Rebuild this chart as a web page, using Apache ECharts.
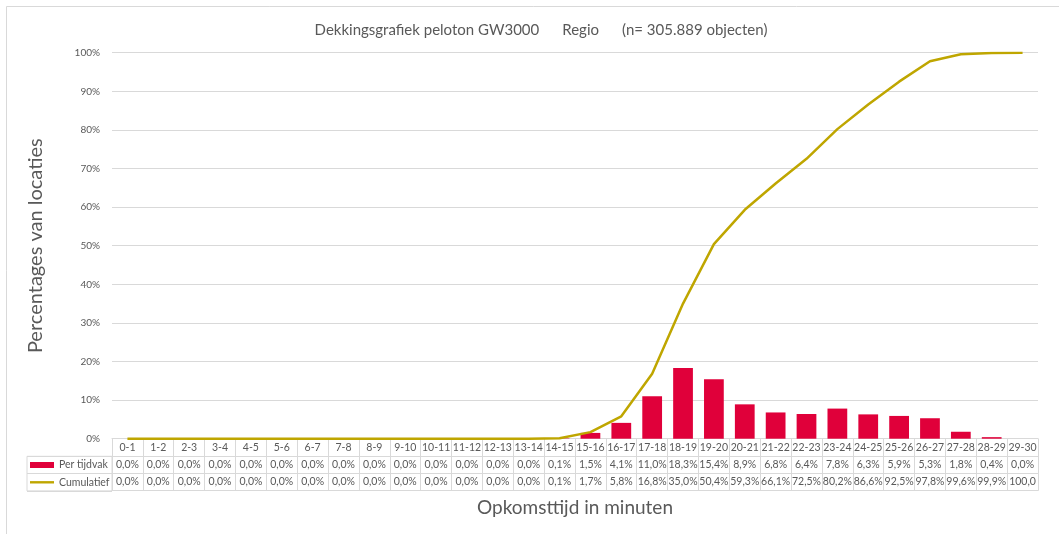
<!DOCTYPE html>
<html>
<head>
<meta charset="utf-8">
<script src="https://cdn.jsdelivr.net/npm/echarts@6/dist/echarts.min.js"></script>
<style>
  html, body { margin: 0; padding: 0; background: #ffffff; }
  #chart { width: 1059px; height: 534px; }
</style>
</head>
<body>
<div id="chart"></div>
<script>
// Time bands (minutes)
const categories = ['0-1','1-2','2-3','3-4','4-5','5-6','6-7','7-8','8-9','9-10',
  '10-11','11-12','12-13','13-14','14-15','15-16','16-17','17-18','18-19','19-20',
  '20-21','21-22','22-23','23-24','24-25','25-26','26-27','27-28','28-29','29-30'];

// Share of locations per time band (%)
const perTijdvak = [0.0,0.0,0.0,0.0,0.0,0.0,0.0,0.0,0.0,0.0,
  0.0,0.0,0.0,0.0,0.1,1.5,4.1,11.0,18.3,15.4,
  8.9,6.8,6.4,7.8,6.3,5.9,5.3,1.8,0.4,0.0];

// Cumulative share of locations (%)
const cumulatief = [0.0,0.0,0.0,0.0,0.0,0.0,0.0,0.0,0.0,0.0,
  0.0,0.0,0.0,0.0,0.1,1.7,5.8,16.8,35.0,50.4,
  59.3,66.1,72.5,80.2,86.6,92.5,97.8,99.6,99.9,100.0];

const yTicks = [0,10,20,30,40,50,60,70,80,90,100];

const FONT = 'Lato, "Open Sans", sans-serif';
const TXT = '#595959';
const LINE = '#d9d9d9';
const RED = '#E0003A';
const GOLD = '#BFA600';
const ROW = 17.3;

const fmt = v => v.toFixed(1).replace('.', ',') + '%';

// thin line-shaped legend key (invisible corner points keep a 24x6 box)
const LINE_KEY = 'path://M0,0 L0,0 M24,6 L24,6 M0,1.8 L24,1.8 L24,4.2 L0,4.2 Z';

// One table row = one extra category axis stacked under the plot
function tableRow(offset, values) {
  return {
    type: 'category',
    gridIndex: 0,
    position: 'bottom',
    offset: offset,
    data: categories,
    boundaryGap: true,
    axisLine: { show: true, lineStyle: { color: LINE, width: 1 } },
    axisTick: { show: values !== null, length: ROW, interval: 0, lineStyle: { color: LINE } },
    axisLabel: {
      show: values !== null,
      interval: 0,
      margin: 3,
      fontFamily: FONT,
      fontSize: 10.5,
      color: TXT,
      width: 32,
      overflow: 'truncate',
      ellipsis: '',
      formatter: (v, i) => values ? values[i] : ''
    },
    splitLine: { show: false }
  };
}

const chart = echarts.init(document.getElementById('chart'), null, { renderer: 'canvas' });

chart.setOption({
  backgroundColor: '#ffffff',
  animation: false,
  textStyle: { fontFamily: FONT },
  title: {
    text: 'Dekkingsgrafiek peloton GW3000      Regio      (n= 305.889 objecten)',
    left: 536,
    textAlign: 'center',
    top: 18,
    textStyle: { fontFamily: FONT, fontSize: 15, fontWeight: 'normal', color: TXT }
  },
  legend: {
    orient: 'vertical',
    left: 30,
    top: 458.5,
    padding: 0,
    itemGap: 4.3,
    itemWidth: 24,
    itemHeight: 6,
    textStyle: { fontFamily: FONT, fontSize: 10.5, color: TXT, lineHeight: 13 },
    data: [
      { name: 'Per tijdvak', icon: 'rect' },
      { name: 'Cumulatief', icon: LINE_KEY }
    ]
  },
  graphic: [
    {
      type: 'rect',
      silent: true,
      shape: { x: 6.5, y: 6.5, width: 1200, height: 700 },
      style: { fill: 'none', stroke: LINE, lineWidth: 1 }
    }
  ],
  grid: [
    { left: 112, right: 21, top: 52.7, height: 386, containLabel: false },
    // legend column of the data table
    { left: 27, top: 439 + ROW, width: 85, height: ROW * 2, show: true, borderColor: LINE, borderWidth: 1 }
  ],
  xAxis: [
    tableRow(0, categories),
    tableRow(ROW, perTijdvak.map(fmt)),
    tableRow(ROW * 2, cumulatief.map(fmt)),
    Object.assign(tableRow(ROW * 3, null), {
      name: 'Opkomsttijd in minuten',
      nameLocation: 'middle',
      nameGap: 8,
      nameTextStyle: { fontFamily: FONT, fontSize: 19, color: TXT, verticalAlign: 'top' }
    }),
    { type: 'value', gridIndex: 1, min: 0, max: 1, show: false }
  ],
  yAxis: [
    {
      type: 'value',
      gridIndex: 0,
      min: 0,
      max: 100,
      interval: 10,
      name: 'Percentages van locaties',
      nameLocation: 'middle',
      nameRotate: 90,
      nameGap: 66,
      nameTextStyle: { fontFamily: FONT, fontSize: 20, color: TXT },
      axisLine: { show: false },
      axisTick: { show: false },
      axisLabel: {
        margin: 12,
        fontFamily: FONT,
        fontSize: 10,
        color: TXT,
        formatter: v => yTicks.includes(v) ? v + '%' : ''
      },
      splitLine: { show: true, lineStyle: { color: LINE, width: 1 } }
    },
    {
      type: 'value',
      gridIndex: 1,
      min: 0,
      max: 2,
      interval: 1,
      axisLine: { show: false },
      axisTick: { show: false },
      axisLabel: { show: false },
      splitLine: { show: true, lineStyle: { color: LINE, width: 1 } }
    }
  ],
  series: [
    {
      name: 'Per tijdvak',
      type: 'bar',
      xAxisIndex: 0,
      yAxisIndex: 0,
      data: perTijdvak,
      barWidth: '64%',
      itemStyle: { color: RED }
    },
    {
      name: 'Cumulatief',
      type: 'line',
      xAxisIndex: 0,
      yAxisIndex: 0,
      data: cumulatief,
      symbol: 'none',
      showSymbol: false,
      lineStyle: { color: GOLD, width: 2.5 },
      itemStyle: { color: GOLD },
      z: 3
    }
  ]
});
</script>
</body>
</html>
